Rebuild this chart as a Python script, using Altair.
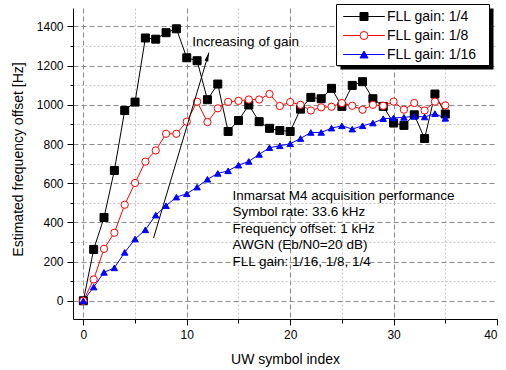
import altair as alt
import pandas as pd

# UW symbol index and estimated frequency offset [Hz] per FLL gain
symbol_index = list(range(36))
offset_quarter = [0, 262, 425, 665, 971, 1014, 1341, 1335, 1368, 1388, 1240, 1225,
                  1026, 1106, 864, 920, 999, 914, 880, 869, 864, 978, 1038, 1031,
                  1084, 992, 1099, 1118, 1031, 992, 907, 895, 949, 828, 1055, 953]
offset_eighth = [0, 109, 265, 347, 490, 601, 710, 767, 852, 852, 914, 1016,
                 912, 982, 1015, 1020, 1027, 1027, 1055, 994, 1014, 1000, 971, 987,
                 990, 1009, 995, 975, 1000, 995, 1016, 975, 1009, 971, 1016, 997]
offset_sixteenth = [0, 70, 145, 168, 247, 315, 362, 437, 485, 529, 546, 580,
                    620, 650, 663, 692, 711, 747, 781, 791, 801, 828, 859, 859,
                    881, 893, 876, 893, 907, 929, 933, 936, 941, 938, 955, 931]

series_names = ["FLL gain: 1/4", "FLL gain: 1/8", "FLL gain: 1/16"]
line_colors = ["#000000", "#ff0000", "#0000ff"]
marker_fills = ["#000000", "#ffffff", "#0000ff"]
marker_shapes = ["square", "circle", "triangle-up"]
marker_sizes = [64, 42, 72]

info_lines = [
    "Inmarsat M4 acquisition performance",
    "Symbol rate: 33.6 kHz",
    "Frequency offset: 1 kHz",
    "AWGN (Eb/N0=20 dB)",
    "FLL gain: 1/16, 1/8, 1/4",
]

rows = []
for name, values in zip(series_names, [offset_quarter, offset_eighth, offset_sixteenth]):
    for i, v in zip(symbol_index, values):
        rows.append({"idx": i, "offset": v, "series": name, "gain": name})
df = pd.DataFrame(rows)

FONT = "Liberation Sans"
major_y = "datum.value % 200 === 0"
major_x = "datum.value % 10 === 0"

x_enc = alt.X(
    "idx:Q",
    scale=alt.Scale(domain=[-1, 40], nice=False, zero=False),
    axis=alt.Axis(
        values=list(range(0, 41, 5)),
        labelExpr=f"{major_x} ? datum.label : ''",
        tickSize={"condition": {"test": major_x, "value": 6}, "value": 4},
        gridColor={"condition": {"test": major_x, "value": "#8c8c8c"}, "value": "#c4c4c4"},
        gridDash={"condition": {"test": major_x, "value": [5, 3]}, "value": [2, 2]},
        gridOpacity={"condition": {"test": "datum.value >= 40", "value": 0}, "value": 1},
        labelPadding=4,
        title="UW symbol index",
        titleY=40,
        titleBaseline="middle",
    ),
)
y_enc = alt.Y(
    "offset:Q",
    scale=alt.Scale(domain=[-93, 1494], nice=False, zero=False),
    axis=alt.Axis(
        values=list(range(0, 1500, 100)),
        labelExpr=f"{major_y} ? datum.label : ''",
        format="d",
        tickSize={"condition": {"test": major_y, "value": 6}, "value": 3},
        gridColor={"condition": {"test": major_y, "value": "#8c8c8c"}, "value": "#c4c4c4"},
        gridDash={"condition": {"test": major_y, "value": [5, 3]}, "value": [2, 2]},
        labelPadding=4,
        title="Estimated frequency offset [Hz]",
        titleAngle=-90,
        titleX=-55,
        titleY=151,
        titleAlign="center",
        titleBaseline="middle",
    ),
)

legend_common = dict(
    title=None,
    orient="none",
    legendX=264,
    legendY=-4,
    padding=3,
    clipHeight=19,
    rowPadding=0,
    symbolSize=64,
    symbolOffset=17,
    labelOffset=16,
    labelFont=FONT,
    labelFontSize=14,
    labelLimit=0,
    zindex=1,
)

# line segments and labels of the legend (drawn under the marker legend)
line_legend = alt.Legend(
    symbolType="M-5.2,0H5.2",
    symbolStrokeWidth=1,
    labelColor="black",
    **legend_common,
)
# marker legend on top of the line segments; each entry takes its own marker style
marker_legend = alt.Legend(
    labelOpacity=0,
    symbolStrokeWidth=1,
    symbolType=alt.ExprRef("scale('shape', datum.value)"),
    symbolFillColor=alt.ExprRef("scale('fill', datum.value)"),
    symbolStrokeColor=alt.ExprRef("scale('stroke', datum.value)"),
    **legend_common,
)

lines = alt.Chart(df).mark_line(strokeWidth=1).encode(
    x=x_enc,
    y=y_enc,
    color=alt.Color("series:N", sort=series_names,
                    scale=alt.Scale(range=line_colors), legend=line_legend),
)

points = alt.Chart(df).mark_point(strokeWidth=1, opacity=1, fillOpacity=1).encode(
    x=x_enc,
    y=y_enc,
    shape=alt.Shape("gain:N", sort=series_names,
                    scale=alt.Scale(range=marker_shapes), legend=None),
    fill=alt.Fill("gain:N", sort=series_names,
                  scale=alt.Scale(range=marker_fills), legend=marker_legend),
    stroke=alt.Stroke("gain:N", sort=series_names,
                      scale=alt.Scale(range=line_colors), legend=None),
    size=alt.Size("gain:N", sort=series_names,
                  scale=alt.Scale(range=marker_sizes), legend=None),
)

# legend frame with its drop shadow
frame_src = pd.DataFrame({"k": [0]})
shadow = alt.Chart(frame_src).mark_rect(color="black").encode(
    x=alt.value(267.5), x2=alt.value(420.5),
    y=alt.value(0.5), y2=alt.value(61.5),
)
frame = alt.Chart(frame_src).mark_rect(fill="white", stroke="black", strokeWidth=1).encode(
    x=alt.value(263.5), x2=alt.value(416.5),
    y=alt.value(-3.5), y2=alt.value(57.5),
)

# "Increasing of gain" arrow
arrow_df = pd.DataFrame({"idx": [6.79, 12.14], "offset": [320, 1266]})
arrow_line = alt.Chart(arrow_df).mark_line(color="black", strokeWidth=1).encode(
    x=x_enc, y=y_enc
)
arrow_head = alt.Chart(arrow_df.iloc[[1]]).mark_point(
    shape="M0,0L0.5,2.2L-0.5,2.2Z", size=64, angle=16.7,
    filled=True, color="black", opacity=1,
).encode(x=x_enc, y=y_enc)

arrow_text = alt.Chart(pd.DataFrame({"idx": [10.54], "offset": [1322]})).mark_text(
    text="Increasing of gain", align="left", baseline="middle",
    font=FONT, fontSize=13.5, color="black",
).encode(x=x_enc, y=y_enc)

info_text = alt.Chart(pd.DataFrame({"idx": [14.42], "offset": [572]})).mark_text(
    text=info_lines, align="left", baseline="top", lineHeight=16.6,
    font=FONT, fontSize=13.5, color="black",
).encode(x=x_enc, y=y_enc)

chart = (
    alt.layer(shadow, frame, lines, points, arrow_line, arrow_head, arrow_text, info_text)
    .properties(
        width=424,
        height=311,
        autosize=alt.AutoSizeParams(type="none"),
        padding={"left": 73, "top": 8, "right": 9, "bottom": 51},
        background="white",
    )
    .configure_view(stroke=None)
    .configure_axis(
        domainColor="black",
        domainWidth=1,
        tickColor="black",
        tickWidth=1,
        labelColor="black",
        titleColor="black",
        labelFont=FONT,
        titleFont=FONT,
        labelFontSize=12,
        titleFontSize=14,
        titleFontWeight="normal",
    )
)

chart.save("out.html", embed_options={"renderer": "svg", "actions": False})
